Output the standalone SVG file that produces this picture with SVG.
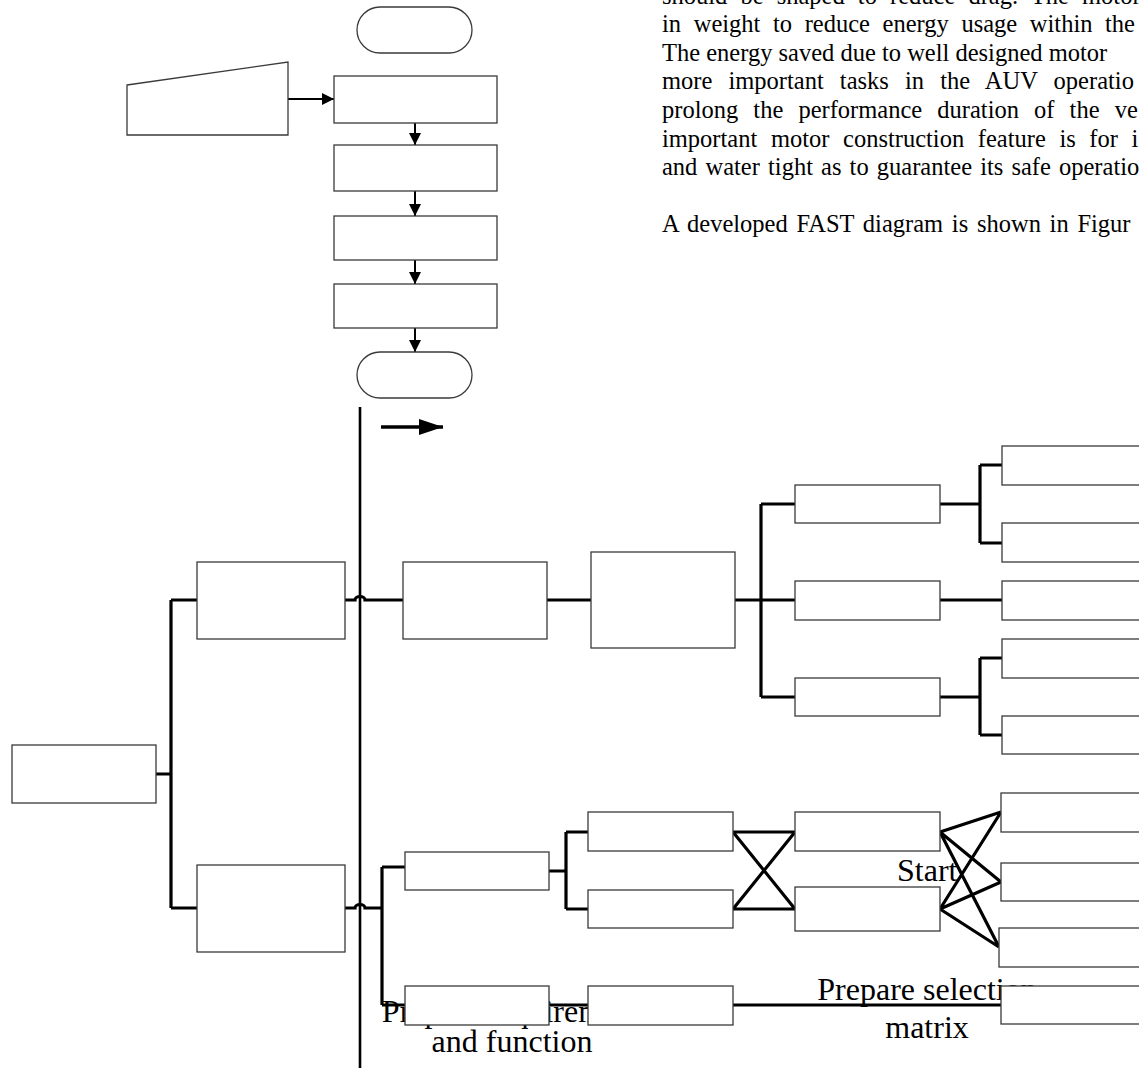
<svg xmlns="http://www.w3.org/2000/svg" width="1139" height="1068" viewBox="0 0 1139 1068">
<defs>
<style>
.box{fill:#fff;stroke:#3a3a3a;stroke-width:1.3}
.con{fill:none;stroke:#000;stroke-width:3.2}
.flow{fill:none;stroke:#000;stroke-width:2}
.para{font-family:"Liberation Serif","Times New Roman",serif;font-size:24.5px;fill:#000}
.lbl{font-family:"Liberation Serif","Times New Roman",serif;font-size:32px;fill:#000}
</style>
<marker id="ah" markerUnits="userSpaceOnUse" markerWidth="14" markerHeight="12" refX="12" refY="6" orient="auto">
<path d="M0,0 L12,6 L0,12 Z" fill="#000"/>
</marker>
<marker id="ahBig" markerUnits="userSpaceOnUse" markerWidth="26" markerHeight="18" refX="24" refY="8" orient="auto">
<path d="M0,0 L24,8 L0,16 Z" fill="#000"/>
</marker>
</defs>
<rect width="1139" height="1068" fill="#fff"/>

<g id="paragraph" class="para">
<text x="662" y="3.5" word-spacing="7">should be shaped to reduce drag. The motor</text>
<text x="662" y="32" word-spacing="6.5">in weight to reduce energy usage within the</text>
<text x="662" y="60.7">The energy saved due to well designed motor</text>
<text x="662" y="89.3" word-spacing="10">more important tasks in the AUV operatio</text>
<text x="662" y="118" word-spacing="9">prolong the performance duration of the ve</text>
<text x="662" y="146.6" word-spacing="7.5">important motor construction feature is for i</text>
<text x="662" y="175.2" word-spacing="2">and water tight as to guarantee its safe operatio</text>
<text x="662" y="232" word-spacing="2.6">A developed FAST diagram is shown in Figur</text>
</g>

<g id="labels" class="lbl">
<text x="897" y="881">Start</text>
<text x="927" y="1000" text-anchor="middle">Prepare selection</text>
<text x="927" y="1038" text-anchor="middle">matrix</text>
<text x="512" y="1022" text-anchor="middle">Prepare requirement</text>
<text x="512" y="1052" text-anchor="middle">and function</text>
</g>

<g id="connectors">
<path class="flow" d="M288,99 H334" marker-end="url(#ah)"/>
<path class="flow" d="M415,123 V145" marker-end="url(#ah)"/>
<path class="flow" d="M415,191 V216" marker-end="url(#ah)"/>
<path class="flow" d="M415,260 V284" marker-end="url(#ah)"/>
<path class="flow" d="M415,328 V352" marker-end="url(#ah)"/>
<path d="M360,407 V1068" stroke="#000" stroke-width="2.6" fill="none"/>
<path d="M381,427 H443" stroke="#000" stroke-width="3.5" fill="none" marker-end="url(#ahBig)"/>
<path class="con" d="M156,774 H171 M171,600 V908 M171,600 H197 M171,908 H197"/>
<path class="con" d="M345,600 H355 A5,3.5 0 0 1 365,600 H403"/>
<path class="con" d="M547,600 H591"/>
<path class="con" d="M735,600 H761 M761,504 V697 M761,504 H795 M761,600 H795 M761,697 H795"/>
<path class="con" d="M940,504 H980" stroke-width="4"/>
<path class="con" d="M980,465 V543 M980,465 H1002 M980,543 H1002"/>
<path class="con" d="M940,600 H1002"/>
<path class="con" d="M940,697 H980" stroke-width="4"/>
<path class="con" d="M980,658 V735 M980,658 H1002 M980,735 H1002"/>
<path class="con" d="M345,908 H355 A5,3.5 0 0 1 365,908 H382 M382,867 V1005 M382,867 H405 M382,1005 H405"/>
<path class="con" d="M549,871 H566 M566,832 V909 M566,832 H588 M566,909 H588"/>
<path class="con" d="M733,832 H795 M733,909 H795 M733,832 L795,909 M733,909 L795,832"/>
<path class="con" d="M940,832 L1001,812 M940,832 L1001,882 M940,832 L999,947 M940,909 L1001,812 M940,909 L1001,882 M940,909 L999,947"/>
<path class="con" d="M549,1005 H588 M733,1005 H1001"/>
</g>

<g id="flow-start"><rect class="box" x="357" y="7" width="115" height="46" rx="23"/></g>
<g id="flow-input"><polygon class="box" points="127,85 288,62 288,135 127,135"/></g>
<g id="flow-step1"><rect class="box" x="334" y="76" width="163" height="47"/></g>
<g id="flow-step2"><rect class="box" x="334" y="145" width="163" height="46"/></g>
<g id="flow-step3"><rect class="box" x="334" y="216" width="163" height="44"/></g>
<g id="flow-step4"><rect class="box" x="334" y="284" width="163" height="44"/></g>
<g id="flow-end"><rect class="box" x="357" y="352" width="115" height="46" rx="23"/></g>

<g id="n-root"><rect class="box" x="12" y="745" width="144" height="58"/></g>
<g id="n-upper"><rect class="box" x="197" y="562" width="148" height="77"/></g>
<g id="n-lower"><rect class="box" x="197" y="865" width="148" height="87"/></g>
<g id="n-u2"><rect class="box" x="403" y="562" width="144" height="77"/></g>
<g id="n-u3"><rect class="box" x="591" y="552" width="144" height="96"/></g>
<g id="n-u4a"><rect class="box" x="795" y="485" width="145" height="38"/></g>
<g id="n-u4b"><rect class="box" x="795" y="581" width="145" height="39"/></g>
<g id="n-u4c"><rect class="box" x="795" y="678" width="145" height="38"/></g>
<g id="n-r1"><rect class="box" x="1002" y="446" width="145" height="39"/></g>
<g id="n-r2"><rect class="box" x="1002" y="523" width="145" height="39"/></g>
<g id="n-r3"><rect class="box" x="1002" y="581" width="145" height="39"/></g>
<g id="n-r4"><rect class="box" x="1002" y="639" width="145" height="39"/></g>
<g id="n-r5"><rect class="box" x="1002" y="716" width="145" height="38"/></g>
<g id="n-a"><rect class="box" x="405" y="852" width="144" height="38"/></g>
<g id="n-b1"><rect class="box" x="588" y="812" width="145" height="39"/></g>
<g id="n-b2"><rect class="box" x="588" y="890" width="145" height="38"/></g>
<g id="n-c1"><rect class="box" x="795" y="812" width="145" height="39"/></g>
<g id="n-c2"><rect class="box" x="795" y="887" width="145" height="44"/></g>
<g id="n-d1"><rect class="box" x="1001" y="793" width="145" height="39"/></g>
<g id="n-d2"><rect class="box" x="1001" y="863" width="145" height="38"/></g>
<g id="n-d3"><rect class="box" x="999" y="928" width="145" height="39"/></g>
<g id="n-d4"><rect class="box" x="1001" y="986" width="145" height="38"/></g>
<g id="n-e1"><rect class="box" x="405" y="986" width="144" height="39"/></g>
<g id="n-e2"><rect class="box" x="588" y="986" width="145" height="39"/></g>
</svg>
